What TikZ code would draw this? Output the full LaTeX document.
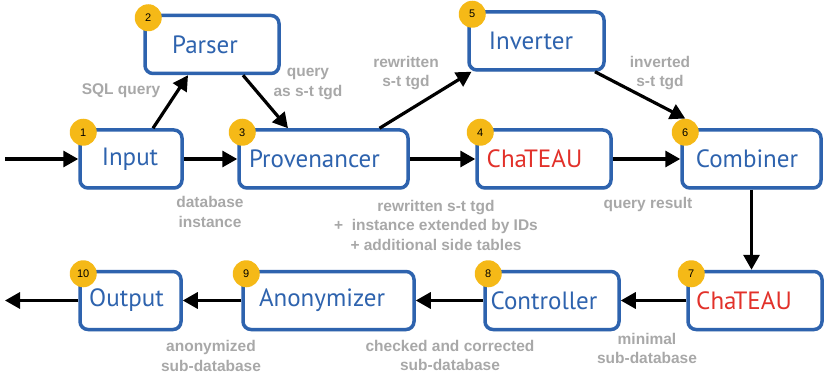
\documentclass[tikz,border=0pt]{standalone}
\usepackage{fontspec}
\setmainfont{Liberation Sans}
\newfontfamily\boxfont{PT Sans}
\usetikzlibrary{arrows.meta,calc,shadows}
\definecolor{stageblue}{HTML}{2E63AE}
\definecolor{stagered}{HTML}{E2312A}
\definecolor{badgeyellow}{HTML}{F5B917}
\definecolor{notegray}{HTML}{A8A8A8}
% moves a stage's caption left by #1 inside its box
\newcommand{\capleft}[1]{\hspace*{-#1}\hspace*{-#1}}
\tikzset{
  stage/.style={draw=stageblue, line width=3.5pt, rounded corners=8pt, fill=white,
    text=stageblue, font=\boxfont\fontsize{25}{28}\selectfont,
    minimum height=58pt, inner sep=0pt,
    drop shadow={shadow xshift=0.8pt, shadow yshift=-1.5pt, opacity=0.25, fill=black}},
  redstage/.style={stage, text=stagered},
  badge/.style={circle, fill=badgeyellow, minimum size=27pt, inner sep=0pt,
    font=\fontsize{11}{12}\selectfont},
  flow/.style={line width=3.2pt, -{Triangle[length=15pt,width=16pt]}},
  note/.style={text=notegray, align=center, inner sep=0pt,
    font=\bfseries\fontsize{15.5}{19.5}\selectfont}
}
\begin{document}
\begin{tikzpicture}[x=1pt,y=-1pt]
\useasboundingbox (0,0) rectangle (825,377);

% processing stages, top row
\node[stage, minimum width=134pt] (parser) at (212,44.5) {\capleft{7pt}Parser};
\node[stage, minimum width=135pt] (inverter) at (536.5,41) {\capleft{5.5pt}Inverter};
\node[stage, minimum width=102pt] (input) at (131,159) {\capleft{1pt}Input};
\node[stage, minimum width=169pt] (prov) at (323.5,159) {\capleft{9pt}Provenancer};
\node[redstage, minimum width=134pt] (chat1) at (544,159) {\capleft{9.5pt}ChaTEAU};
\node[stage, minimum width=139pt] (comb) at (751.5,159) {\capleft{4.5pt}Combiner};
% processing stages, bottom row
\node[stage, minimum width=101pt] (output) at (130.5,300.5) {\capleft{4pt}Output};
\node[stage, minimum width=171pt] (anon) at (328.5,300.5) {\capleft{6.5pt}Anonymizer};
\node[stage, minimum width=134pt] (ctrl) at (552,300.5) {\capleft{8pt}Controller};
\node[redstage, minimum width=134pt] (chat2) at (755,300.5) {\capleft{11pt}ChaTEAU};

% step numbers
\foreach \b/\n in {input/1, parser/2, prov/3, chat1/4, inverter/5, comb/6,
                   chat2/7, ctrl/8, anon/9, output/10}
  \node[badge] (b\n) at ($(\b.north west)+(5,4)$) {\n};

% data flow
\coordinate (src) at (5,159);
\coordinate (sink) at (5,300.5);
\draw[flow] (src) -- (src -| input.west);
\draw[flow] ([xshift=22pt]input.north) -- ([xshift=-24pt]parser.south);
\draw[flow] ([xshift=31pt]parser.south) -- ([xshift=-35.5pt]prov.north);
\draw[flow] ([xshift=56pt]prov.north) -- ([xshift=-65pt]inverter.south);
\draw[flow] ([xshift=58.5pt]inverter.south) -- (b6.north);
\draw[flow] (input) -- (prov);
\draw[flow] (prov) -- (chat1);
\draw[flow] (chat1) -- (comb);
\draw[flow] (comb.south) -- (comb.south |- chat2.north);
\draw[flow] (chat2) -- (ctrl);
\draw[flow] (ctrl) -- (anon);
\draw[flow] (anon) -- (output);
\draw[flow] (output.west) -- (sink);

% what is passed along each connection
\node[note] at (121,91) {SQL query};
\node[note] at (308,84) {query\\as s-t tgd};
\node[note] at (406,73) {rewritten\\s-t tgd};
\node[note] at (660,73) {inverted\\s-t tgd};
\node[note] at (210,212) {database\\instance};
\node[note] at (436,225) {rewritten s-t tgd\\+\ \ instance extended by IDs\\+ additional side tables};
\node[note] at (648,204) {query result};
\node[note] at (647,348.5) {minimal\\sub-database};
\node[note] at (450,355.5) {checked and corrected\\sub-database};
\node[note] at (211,356) {anonymized\\sub-database};
\end{tikzpicture}
\end{document}
